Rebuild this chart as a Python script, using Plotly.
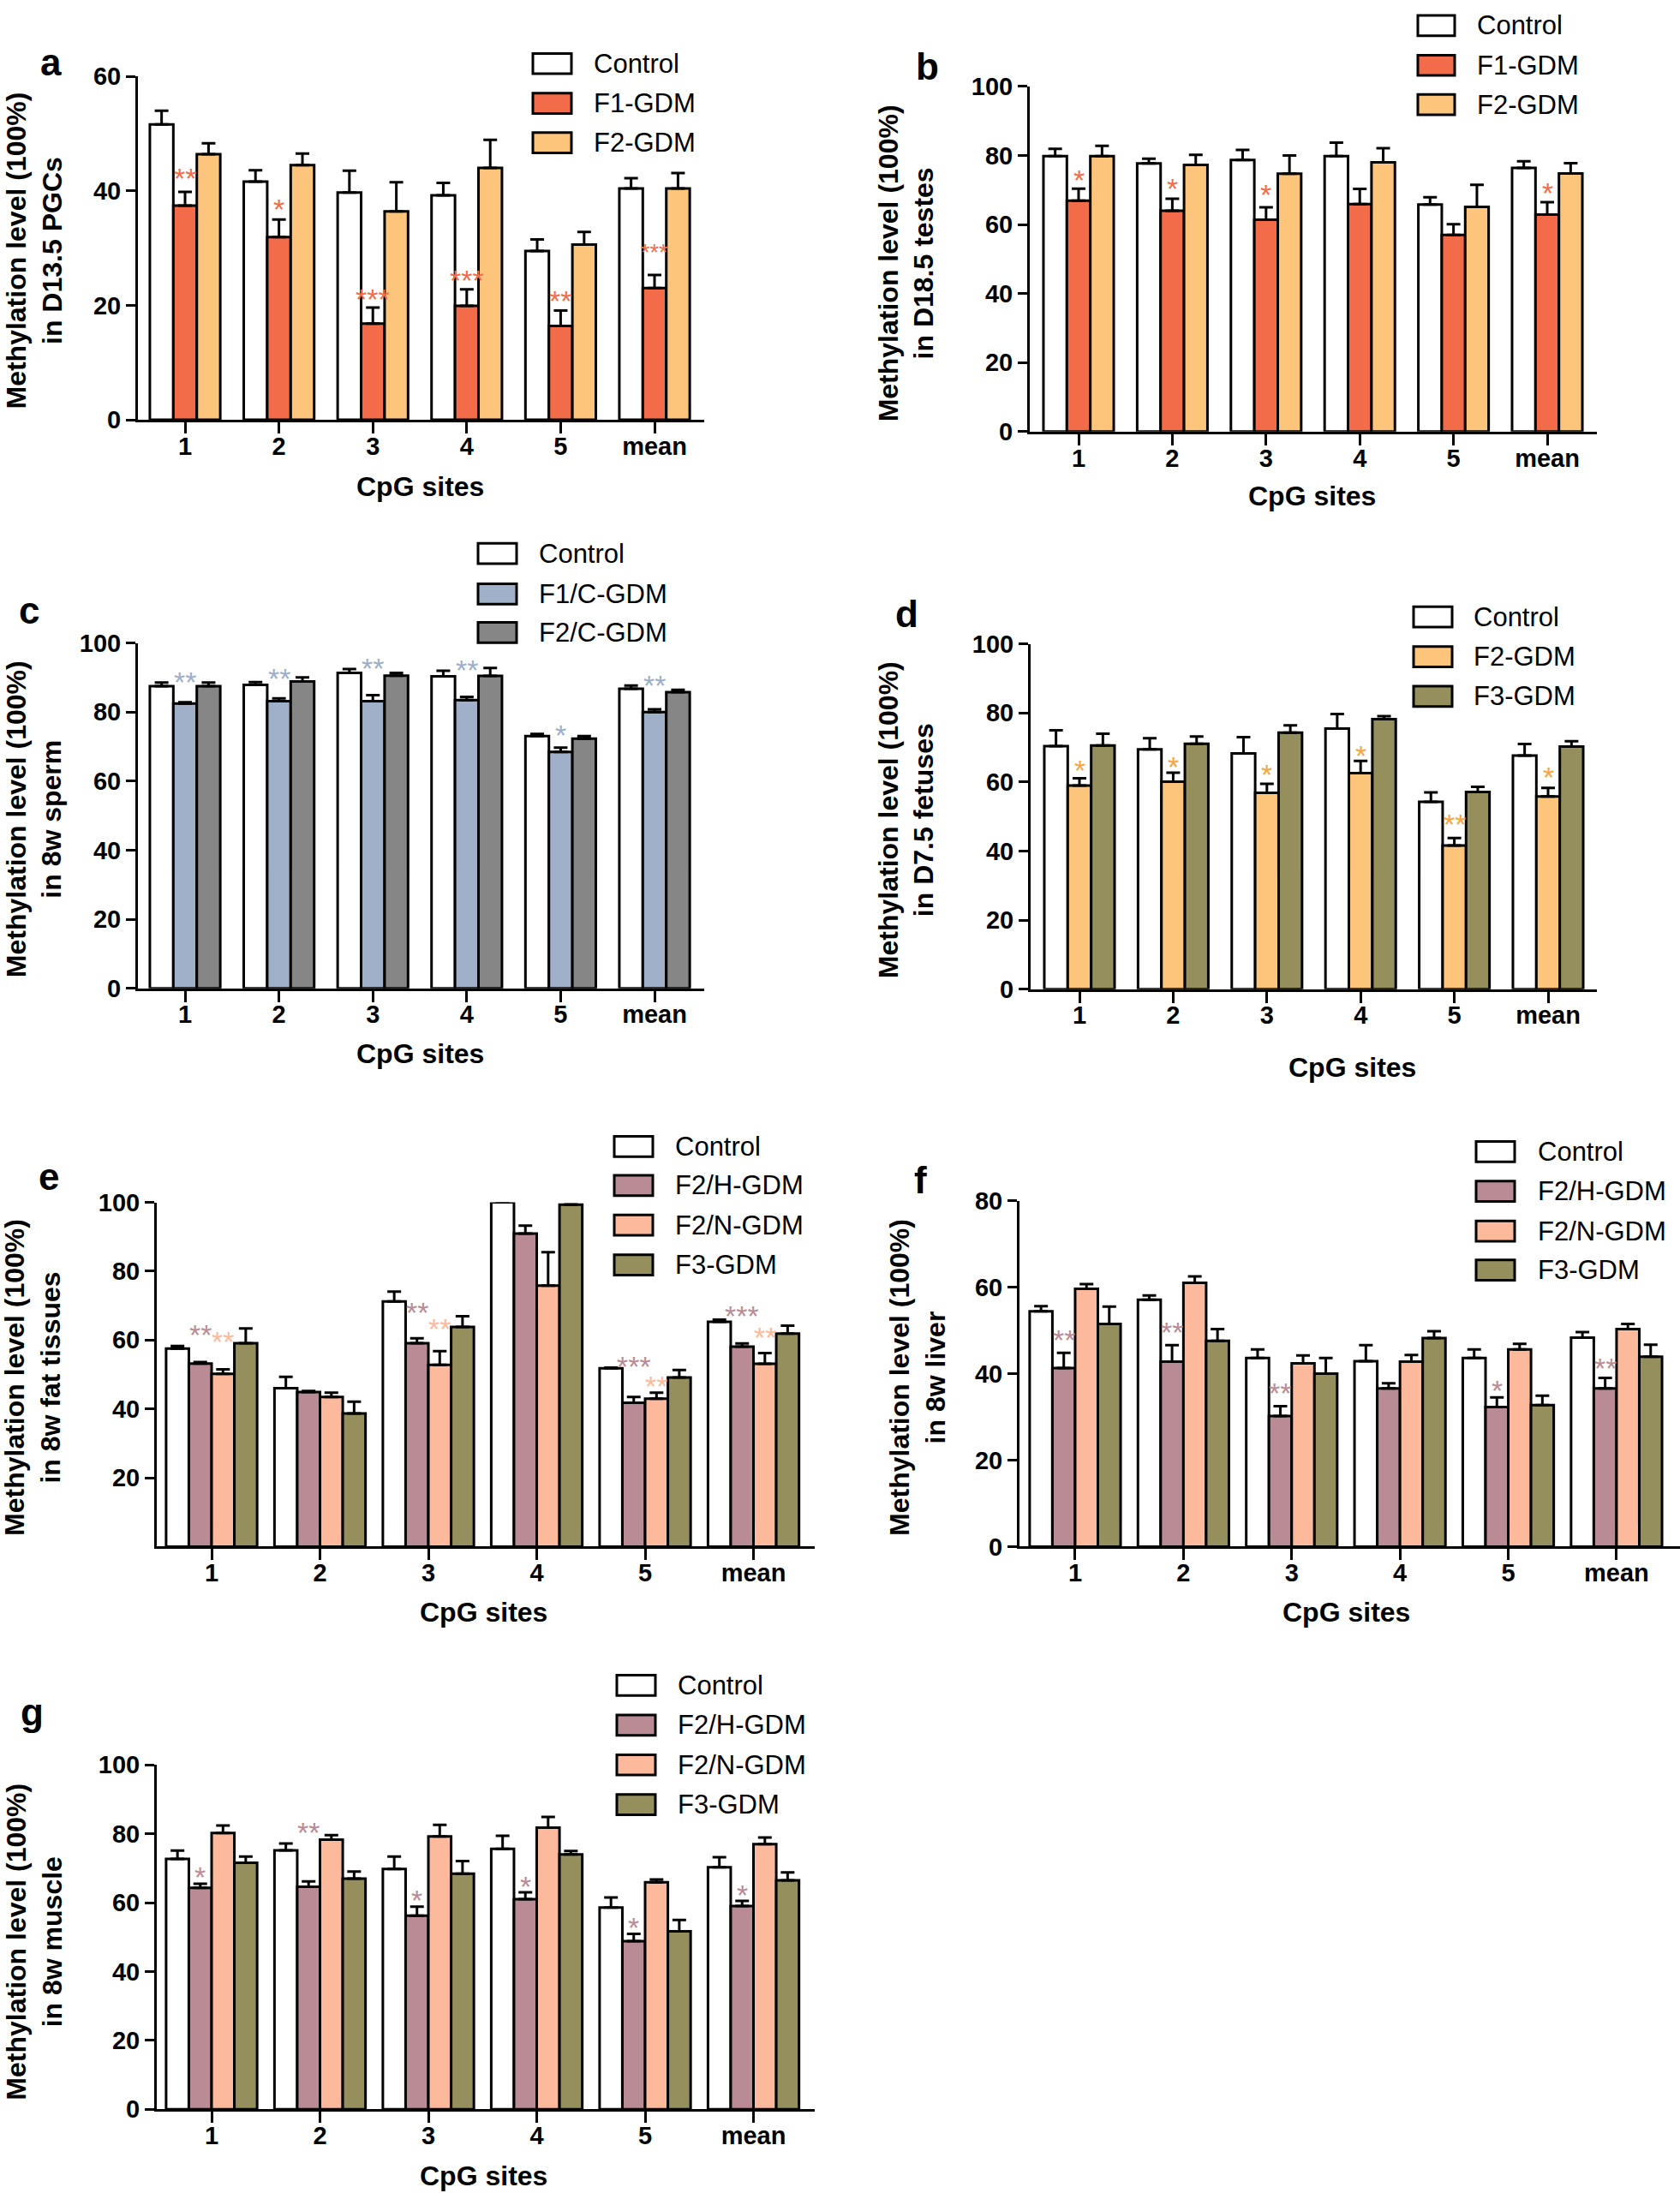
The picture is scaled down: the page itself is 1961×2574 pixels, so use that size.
import plotly.graph_objects as go

W, H = 1961, 2574

sites = ["1", "2", "3", "4", "5", "mean"]

# ---------------- data ----------------
a_ctrl = [51.6, 41.6, 39.7, 39.2, 29.5, 40.4]
a_ctrl_err = [2.4, 2.0, 3.8, 2.2, 2.0, 1.8]
a_f1 = [37.4, 31.9, 16.8, 19.9, 16.4, 23.0]
a_f1_err = [2.4, 3.1, 2.8, 2.9, 2.7, 2.3]
a_f2 = [46.4, 44.5, 36.4, 44.0, 30.6, 40.4]
a_f2_err = [1.9, 2.0, 5.1, 4.9, 2.2, 2.7]
a_sig = ["**", "*", "***", "***", "**", "***"]
a_sig_y = [43.5, 38.1, 22.5, 25.8, 22.2, 30.3]

b_ctrl = [79.8, 77.7, 78.7, 79.8, 65.8, 76.4]
b_ctrl_err = [2.1, 1.4, 2.9, 3.9, 2.1, 1.9]
b_f1 = [66.9, 64.0, 61.4, 65.9, 57.0, 62.9]
b_f1_err = [3.5, 3.5, 3.6, 4.4, 3.1, 3.6]
b_f2 = [79.8, 77.3, 74.7, 78.0, 65.1, 74.8]
b_f2_err = [3.0, 2.9, 5.3, 4.1, 6.4, 3.0]
b_sig = ["*", "*", "*", "", "", "*"]
b_sig_y = [75.1, 72.8, 70.9, None, None, 71.4]

c_ctrl = [87.5, 87.9, 91.4, 90.4, 73.1, 86.8]
c_ctrl_err = [1.1, 0.8, 1.1, 1.6, 0.6, 0.9]
c_f1 = [82.5, 83.2, 83.2, 83.5, 68.5, 80.0]
c_f1_err = [0.4, 0.8, 1.7, 0.9, 1.2, 0.8]
c_f2 = [87.5, 88.9, 90.6, 90.5, 72.3, 85.8]
c_f2_err = [1.1, 1.2, 0.8, 2.3, 0.8, 0.7]
c_sig = ["**", "**", "**", "**", "*", "**"]
c_sig_y = [90.9, 92.0, 95.0, 94.5, 75.7, 89.9]

d_ctrl = [70.4, 69.5, 68.3, 75.5, 54.3, 67.7]
d_ctrl_err = [4.6, 3.2, 4.7, 4.2, 2.7, 3.3]
d_f2 = [59.0, 60.1, 56.9, 62.6, 41.6, 55.8]
d_f2_err = [2.1, 2.6, 2.6, 3.5, 2.2, 2.5]
d_f3 = [70.6, 71.1, 74.3, 78.2, 57.1, 70.3]
d_f3_err = [3.4, 2.1, 2.1, 0.9, 1.5, 1.5]
d_sig = ["*", "*", "*", "*", "**", "*"]
d_sig_y = [65.6, 66.8, 64.4, 70.0, 50.1, 63.7]

e_ctrl = [57.5, 46.0, 71.2, 100.0, 51.8, 65.3]
e_ctrl_err = [0.8, 3.3, 2.9, 0.0, 0.2, 0.6]
e_h = [53.2, 44.9, 59.1, 90.9, 41.8, 58.1]
e_h_err = [0.4, 0.3, 1.4, 2.3, 1.7, 0.9]
e_n = [50.2, 43.5, 52.8, 75.8, 43.0, 53.1]
e_n_err = [1.3, 1.2, 4.0, 9.7, 1.7, 3.1]
e_f3 = [59.1, 38.7, 63.8, 99.3, 49.1, 61.9]
e_f3_err = [4.3, 3.4, 3.1, 0.1, 2.2, 2.3]
e_sig_h = ["**", "", "**", "**", "***", "***"]
e_sig_h_y = [63.8, None, 70.2, 101.5, 54.7, 69.3]
e_sig_n = ["**", "", "**", "", "**", "**"]
e_sig_n_y = [61.9, None, 65.6, None, 48.8, 63.1]

f_ctrl = [54.4, 57.1, 43.6, 42.9, 43.6, 48.3]
f_ctrl_err = [1.2, 1.0, 2.0, 3.7, 2.0, 1.3]
f_h = [41.3, 42.8, 30.2, 36.6, 32.3, 36.6]
f_h_err = [3.5, 3.8, 2.3, 1.2, 2.2, 2.4]
f_n = [59.6, 61.0, 42.4, 42.8, 45.6, 50.3]
f_n_err = [1.1, 1.5, 1.8, 1.5, 1.3, 1.2]
f_f3 = [51.5, 47.6, 40.0, 48.2, 32.7, 43.9]
f_f3_err = [4.0, 2.7, 3.6, 1.6, 2.2, 2.8]
f_sig_h = ["**", "**", "**", "", "*", "**"]
f_sig_h_y = [49.6, 51.4, 37.3, None, 38.0, 43.0]

g_ctrl = [72.7, 75.2, 69.8, 75.6, 58.6, 70.3]
g_ctrl_err = [2.4, 2.0, 3.6, 3.8, 2.9, 2.9]
g_h = [64.3, 64.6, 56.2, 61.0, 48.8, 59.0]
g_h_err = [1.2, 1.6, 2.6, 2.0, 2.1, 1.5]
g_n = [80.2, 78.3, 79.2, 81.8, 65.9, 77.0]
g_n_err = [2.2, 1.3, 3.4, 3.1, 0.8, 1.9]
g_f3 = [71.6, 67.0, 68.4, 74.0, 51.7, 66.5]
g_f3_err = [1.8, 2.0, 3.7, 1.0, 3.3, 2.3]
g_sig_h = ["*", "**", "*", "*", "*", "*"]
g_sig_h_y = [69.8, 82.6, 62.9, 66.9, 55.0, 64.4]

# ---------------- styles ----------------
WHITE = "#FFFFFF"
RED = "#F36C4A"
LORANGE = "#FDC47C"
BLUEGRAY = "#A0B0C8"
GRAY = "#868686"
OLIVE = "#948F5D"
MAUVE = "#B98C95"
PEACH = "#FDB99C"
SIG_C = "#9DAECB"
SIG_D = "#F7A441"

FONT = "Liberation Sans, Arial, Helvetica, sans-serif"

panels = [
    dict(letter="a", letter_pos=(59, 57),
         xdom=(161, 822), ydom=(74, 480), xr=(-0.502, 5.529), yr=(0, 60),
         yt=[0, 20, 40, 60],
         ytitle="Methylation level (100%)<br>in D13.5 PGCs", ytitle_pos=(40, 280),
         xtitle_pos=(490, 559),
         series=[("Control", a_ctrl, a_ctrl_err, WHITE),
                 ("F1-GDM", a_f1, a_f1_err, RED),
                 ("F2-GDM", a_f2, a_f2_err, LORANGE)],
         sigs=[(1, a_sig, a_sig_y, RED)],
         leg_box=(622, 667), leg_y=[59, 106, 152.5], leg_tx=691),
    dict(letter="b", letter_pos=(1082, 62),
         xdom=(1202, 1864), ydom=(86, 494), xr=(-0.521, 5.530), yr=(0, 100),
         yt=[0, 20, 40, 60, 80, 100],
         ytitle="Methylation level (100%)<br>in D18.5 testes", ytitle_pos=(1058, 295),
         xtitle_pos=(1531, 570),
         series=[("Control", b_ctrl, b_ctrl_err, WHITE),
                 ("F1-GDM", b_f1, b_f1_err, RED),
                 ("F2-GDM", b_f2, b_f2_err, LORANGE)],
         sigs=[(1, b_sig, b_sig_y, RED)],
         leg_box=(1655, 1698), leg_y=[14, 61, 107.5], leg_tx=1722),
    dict(letter="c", letter_pos=(34, 705),
         xdom=(161, 822), ydom=(744, 1152), xr=(-0.502, 5.529), yr=(0, 100),
         yt=[0, 20, 40, 60, 80, 100],
         ytitle="Methylation level (100%)<br>in 8w sperm", ytitle_pos=(40, 952),
         xtitle_pos=(490, 1229),
         series=[("Control", c_ctrl, c_ctrl_err, WHITE),
                 ("F1/C-GDM", c_f1, c_f1_err, BLUEGRAY),
                 ("F2/C-GDM", c_f2, c_f2_err, GRAY)],
         sigs=[(1, c_sig, c_sig_y, SIG_C)],
         leg_box=(558, 603), leg_y=[638, 686, 731.5], leg_tx=627),
    dict(letter="d", letter_pos=(1058, 709),
         xdom=(1203, 1864), ydom=(745, 1153), xr=(-0.521, 5.521), yr=(0, 100),
         yt=[0, 20, 40, 60, 80, 100],
         ytitle="Methylation level (100%)<br>in D7.5 fetuses", ytitle_pos=(1058, 953),
         xtitle_pos=(1578, 1245),
         series=[("Control", d_ctrl, d_ctrl_err, WHITE),
                 ("F2-GDM", d_f2, d_f2_err, LORANGE),
                 ("F3-GDM", d_f3, d_f3_err, OLIVE)],
         sigs=[(1, d_sig, d_sig_y, SIG_D)],
         leg_box=(1650, 1695), leg_y=[713, 760, 807], leg_tx=1718),
    dict(letter="e", letter_pos=(57, 1375),
         xdom=(183, 951), ydom=(1405, 1812), xr=(-0.506, 5.565), yr=(0, 100),
         yt=[20, 40, 60, 80, 100],
         ytitle="Methylation level (100%)<br>in 8w fat tissues", ytitle_pos=(38, 1612),
         xtitle_pos=(564, 1889),
         series=[("Control", e_ctrl, e_ctrl_err, WHITE),
                 ("F2/H-GDM", e_h, e_h_err, MAUVE),
                 ("F2/N-GDM", e_n, e_n_err, PEACH),
                 ("F3-GDM", e_f3, e_f3_err, OLIVE)],
         sigs=[(1, e_sig_h, e_sig_h_y, MAUVE), (2, e_sig_n, e_sig_n_y, PEACH)],
         leg_box=(717, 762), leg_y=[1339, 1385, 1432, 1479], leg_tx=786),
    dict(letter="f", letter_pos=(1074, 1379),
         xdom=(1190, 1961), ydom=(1403, 1812), xr=(-0.514, 5.586), yr=(0, 80),
         yt=[0, 20, 40, 60, 80],
         ytitle="Methylation level (100%)<br>in 8w liver", ytitle_pos=(1071, 1612),
         xtitle_pos=(1571, 1889),
         series=[("Control", f_ctrl, f_ctrl_err, WHITE),
                 ("F2/H-GDM", f_h, f_h_err, MAUVE),
                 ("F2/N-GDM", f_n, f_n_err, PEACH),
                 ("F3-GDM", f_f3, f_f3_err, OLIVE)],
         sigs=[(1, f_sig_h, f_sig_h_y, MAUVE)],
         leg_box=(1723, 1768), leg_y=[1345, 1392, 1439, 1485], leg_tx=1793),
    dict(letter="g", letter_pos=(37, 2007),
         xdom=(183, 951), ydom=(2070, 2477), xr=(-0.506, 5.565), yr=(0, 100),
         yt=[0, 20, 40, 60, 80, 100],
         ytitle="Methylation level (100%)<br>in 8w muscle", ytitle_pos=(40, 2279),
         xtitle_pos=(564, 2556),
         series=[("Control", g_ctrl, g_ctrl_err, WHITE),
                 ("F2/H-GDM", g_h, g_h_err, MAUVE),
                 ("F2/N-GDM", g_n, g_n_err, PEACH),
                 ("F3-GDM", g_f3, g_f3_err, OLIVE)],
         sigs=[(1, g_sig_h, g_sig_h_y, MAUVE)],
         leg_box=(720, 765), leg_y=[1976, 2023, 2070, 2117], leg_tx=789),
]


def px(p):
    return p / W


def py(p):
    return 1 - p / H


fig = go.Figure()
annotations = []
shapes = []
xpos = list(range(len(sites)))

for i, P in enumerate(panels):
    k = "" if i == 0 else str(i + 1)
    xa, ya = "x" + k, "y" + k
    n = len(P["series"])
    w = 0.25 if n == 3 else 0.21
    for si, (name, vals, errs, color) in enumerate(P["series"]):
        fig.add_trace(go.Bar(
            x=xpos, y=vals, name=name, width=w, offset=-n * w / 2 + si * w,
            marker=dict(color=color, line=dict(color="black", width=3)),
            error_y=dict(type="data", array=errs, arrayminus=[0] * len(errs),
                         symmetric=False, color="black", thickness=3, width=8),
            xaxis=xa, yaxis=ya, showlegend=False, cliponaxis=False))

    axstyle = dict(showline=True, linecolor="black", linewidth=3, ticks="outside",
                   tickcolor="black", tickwidth=3, showgrid=False, zeroline=False,
                   tickfont=dict(family=FONT, size=29, color="black", weight="bold"))
    fig.update_layout(**{
        ("xaxis" + k): dict(domain=[px(P["xdom"][0]), px(P["xdom"][1])], anchor=ya,
                            range=list(P["xr"]), tickvals=xpos, ticktext=sites,
                            ticklen=13, ticklabelstandoff=-10, **axstyle),
        ("yaxis" + k): dict(domain=[py(P["ydom"][1]), py(P["ydom"][0])], anchor=xa,
                            range=list(P["yr"]), tickvals=P["yt"], ticklen=11,
                            **axstyle),
    })

    for (sidx, labels, ys, col) in P["sigs"]:
        off = -n * w / 2 + sidx * w + w / 2
        for gi, (lab, yv) in enumerate(zip(labels, ys)):
            if not lab:
                continue
            small = (P["letter"] == "a" and gi == 5)
            fs = 27 if small else 34
            annotations.append(dict(
                x=gi + off, y=yv, xref=xa, yref=ya, text=lab, showarrow=False,
                xanchor="center", yanchor="middle", yshift=-int(fs * 0.28),
                font=dict(family=FONT, size=fs, color=col)))

    annotations.append(dict(x=px(P["letter_pos"][0]), y=py(P["letter_pos"][1]),
                            xref="paper", yref="paper", text="<b>%s</b>" % P["letter"],
                            showarrow=False, xanchor="center", yanchor="middle",
                            font=dict(family=FONT, size=44, color="black")))
    annotations.append(dict(x=px(P["ytitle_pos"][0]), y=py(P["ytitle_pos"][1]),
                            xref="paper", yref="paper", text=P["ytitle"], textangle=-90,
                            showarrow=False, xanchor="center", yanchor="middle",
                            font=dict(family=FONT, size=32, color="black", weight="bold")))
    annotations.append(dict(x=px(P["xtitle_pos"][0]), y=py(P["xtitle_pos"][1]),
                            xref="paper", yref="paper", text="CpG sites",
                            showarrow=False, xanchor="center", yanchor="middle",
                            font=dict(family=FONT, size=32, color="black", weight="bold")))
    bx0, bx1 = P["leg_box"]
    for (name, vals, errs, color), cy in zip(P["series"], P["leg_y"]):
        shapes.append(dict(type="rect", xref="paper", yref="paper",
                           x0=px(bx0), x1=px(bx1), y0=py(cy + 12), y1=py(cy - 12),
                           fillcolor=color, line=dict(color="black", width=3)))
        annotations.append(dict(x=px(P["leg_tx"]), y=py(cy), xref="paper", yref="paper",
                                text=name, showarrow=False, xanchor="left",
                                yanchor="middle",
                                font=dict(family=FONT, size=31, color="black")))

fig.update_layout(
    width=W, height=H, margin=dict(l=0, r=0, t=0, b=0),
    paper_bgcolor="white", plot_bgcolor="white",
    barmode="overlay", showlegend=False,
    annotations=annotations, shapes=shapes,
    font=dict(family=FONT, color="black"),
)

PIN = ("var gd=document.getElementsByClassName('plotly-graph-div')[0];"
       "document.documentElement.style.margin='0';"
       "document.documentElement.style.padding='0';"
       "document.body.style.margin='0';document.body.style.padding='0';"
       "document.documentElement.style.overflow='hidden';"
       "document.body.style.overflow='hidden';"
       "gd.style.position='absolute';gd.style.top='0px';gd.style.left='0px';")

fig.write_html("out.html", config={"displayModeBar": False}, post_script=PIN)
